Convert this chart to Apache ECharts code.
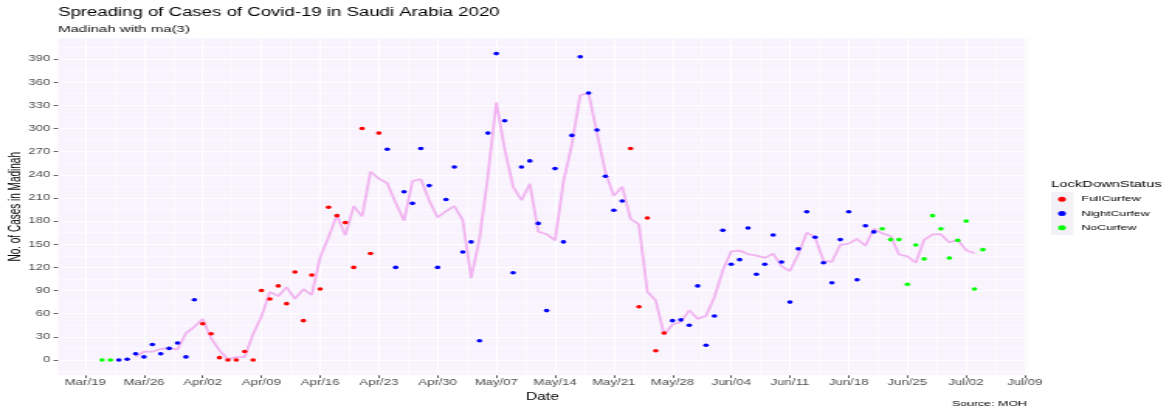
<!DOCTYPE html>
<html>
<head>
<meta charset="utf-8">
<title>Spreading of Cases of Covid-19 in Saudi Arabia 2020</title>
<script src="https://cdn.jsdelivr.net/npm/echarts@6/dist/echarts.min.js"></script>
<style>
  html, body { margin: 0; padding: 0; background: #fff; overflow: hidden; }
  /* the source plot was stretched sideways when exported, so draw narrow and stretch it */
  #chart { width: 756px; height: 411px; transform: scaleX(1.5503); transform-origin: 0 0; }
</style>
</head>
<body>
<div id="chart"></div>
<script>
const dates = [
  '2020-03-21','2020-03-22','2020-03-23','2020-03-24','2020-03-25','2020-03-26','2020-03-27','2020-03-28','2020-03-29','2020-03-30','2020-03-31',
  '2020-04-01','2020-04-02','2020-04-03','2020-04-04','2020-04-05','2020-04-06','2020-04-07','2020-04-08','2020-04-09','2020-04-10',
  '2020-04-11','2020-04-12','2020-04-13','2020-04-14','2020-04-15','2020-04-16','2020-04-17','2020-04-18','2020-04-19','2020-04-20',
  '2020-04-21','2020-04-22','2020-04-23','2020-04-24','2020-04-25','2020-04-26','2020-04-27','2020-04-28','2020-04-29','2020-04-30',
  '2020-05-01','2020-05-02','2020-05-03','2020-05-04','2020-05-05','2020-05-06','2020-05-07','2020-05-08','2020-05-09','2020-05-10',
  '2020-05-11','2020-05-12','2020-05-13','2020-05-14','2020-05-15','2020-05-16','2020-05-17','2020-05-18','2020-05-19','2020-05-20',
  '2020-05-21','2020-05-22','2020-05-23','2020-05-24','2020-05-25','2020-05-26','2020-05-27','2020-05-28','2020-05-29','2020-05-30','2020-05-31',
  '2020-06-01','2020-06-02','2020-06-03','2020-06-04','2020-06-05','2020-06-06','2020-06-07','2020-06-08','2020-06-09','2020-06-10',
  '2020-06-11','2020-06-12','2020-06-13','2020-06-14','2020-06-15','2020-06-16','2020-06-17','2020-06-18','2020-06-19','2020-06-20',
  '2020-06-21','2020-06-22','2020-06-23','2020-06-24','2020-06-25','2020-06-26','2020-06-27','2020-06-28','2020-06-29','2020-06-30',
  '2020-07-01','2020-07-02','2020-07-03','2020-07-04'
]

// daily new cases in Madinah
const cases = [
  0, 0, 0, 1, 8, 4, 20, 8, 15, 22, 4,
  78, 47, 34, 3, 0, 0, 11, 0, 90, 79, 96, 73, 114, 51, 110, 92, 198, 187, 178, 120,
  300, 138, 294, 273, 120, 218, 203, 274, 226, 120,
  208, 250, 140, 153, 25, 294, 397, 310, 113, 250, 258, 177, 64, 248, 153, 291, 393, 346, 298, 238,
  194, 206, 274, 69, 184, 12, 35, 51, 52, 45, 96,
  19, 57, 168, 124, 130, 171, 111, 124, 162, 127, 75, 144, 192, 159, 126, 100, 156, 192, 104, 174,
  166, 170, 156, 156, 98, 149, 131, 187, 170, 132,
  155, 180, 92, 143
]

// F = FullCurfew, N = NightCurfew, O = NoCurfew
const status = [
  'O','O','N','N','N','N','N','N','N','N','N',
  'N','F','F','F','F','F','F','F','F','F','F','F','F','F','F','F','F','F','F','F',
  'F','F','F','N','N','N','N','N','N','N',
  'N','N','N','N','N','N','N','N','N','N','N','N','N','N','N','N','N','N','N','N',
  'N','N','F','F','F','F','F','N','N','N','N',
  'N','N','N','N','N','N','N','N','N','N','N','N','N','N','N','N','N','N','N','N',
  'N','O','O','O','O','O','O','O','O','O',
  'O','O','O','O'
]

// ma(3) line
const ma3 = [
  null, null, null, null, 4.3, 10.7, 10.7, 14.3, 15, 13.7, 34.7,
  43, 53, 28, 12.3, 1, 3.7, 3.7, 33.7, 56.3, 88.3, 82.7, 94.3, 79.3, 91.7, 84.3, 133.3, 159, 187.7, 161.7, 199.3,
  186, 244, 235, 229, 203.7, 180.3, 231.7, 234.3, 206.7, 184.7,
  192.7, 199.3, 181, 106, 157.3, 238.7, 333.7, 273.3, 224.3, 207, 228.3, 166.3, 163, 155, 230.7, 279, 343.3, 345.7, 294, 243.3,
  212.7, 224.7, 183, 175.7, 88.3, 77, 32.7, 46, 49.3, 64.3, 53.3,
  57.3, 81.3, 116.3, 140.7, 141.7, 137.3, 135.3, 132.3, 137.7, 121.3, 115.3, 137, 165, 159, 128.3, 127.3, 149.3, 150.7, 156.7,
  148, 170, 164, 160.7, 136.7, 134.3, 126, 155.7, 162.7, 163, 152.3,
  155.7, 142.3, 138.3, null
]

const xTicks = ['2020-03-19','2020-03-26','2020-04-02','2020-04-09','2020-04-16','2020-04-23','2020-04-30','2020-05-07',
  '2020-05-14','2020-05-21','2020-05-28','2020-06-04','2020-06-11','2020-06-18','2020-06-25','2020-07-02','2020-07-09']
const xMinorTicks = ['2020-03-22 12:00','2020-03-29 12:00','2020-04-05 12:00','2020-04-12 12:00','2020-04-19 12:00','2020-04-26 12:00',
  '2020-05-03 12:00','2020-05-10 12:00','2020-05-17 12:00','2020-05-24 12:00','2020-05-31 12:00','2020-06-07 12:00',
  '2020-06-14 12:00','2020-06-21 12:00','2020-06-28 12:00','2020-07-05 12:00']
const yTicks = [0, 30, 60, 90, 120, 150, 180, 210, 240, 270, 300, 330, 360, 390]
const yMinorTicks = [-15, 15, 45, 75, 105, 135, 165, 195, 225, 255, 285, 315, 345, 375, 405]

const statusNames = { F: 'FullCurfew', N: 'NightCurfew', O: 'NoCurfew' }
const statusColors = { F: '#ff0000', N: '#0000ff', O: '#00ff00' }

const FONT = "'Liberation Sans', Arial, sans-serif"
const MONTHS = ['Jan','Feb','Mar','Apr','May','Jun','Jul','Aug','Sep','Oct','Nov','Dec']
const t = s => +echarts.time.parse(s)

// ggplot expands the range 5% each side
const xMin = t('2020-03-15 18:00')
const xMax = t('2020-07-09 06:00')
const yMin = -19.85
const yMax = 416.85

const gridLeft = 37.4, gridRight = 93.6

function pointSeries(code) {
  const data = []
  dates.forEach((d, i) => { if (status[i] === code) data.push([t(d), cases[i]]) })
  return {
    name: statusNames[code], type: 'scatter', data,
    symbol: 'circle', symbolSize: 3.6, z: 3,
    itemStyle: { color: statusColors[code], opacity: 1 }
  }
}

const chart = echarts.init(document.getElementById('chart'), null, { renderer: 'canvas' })

chart.setOption({
  animation: false,
  backgroundColor: '#ffffff',
  textStyle: { fontFamily: FONT },
  title: [
    { text: 'Spreading of Cases of Covid-19 in Saudi Arabia 2020', left: gridLeft, top: 7, padding: 0,
      textStyle: { fontSize: 12, fontWeight: 'normal', color: '#000', fontFamily: FONT } },
    { text: 'Madinah with ma(3)', left: gridLeft, top: 24, padding: 0,
      textStyle: { fontSize: 9.7, fontWeight: 'normal', color: '#111', fontFamily: FONT } },
    { text: 'LockDownStatus', left: 678, top: 179, padding: 0,
      textStyle: { fontSize: 9.5, fontWeight: 'normal', color: '#000', fontFamily: FONT } },
    { text: 'Source: MOH', right: gridRight, top: 400, padding: 0,
      textStyle: { fontSize: 8, fontWeight: 'normal', color: '#000', fontFamily: FONT } }
  ],
  graphic: [
    { type: 'rect', left: 678, top: 192, shape: { width: 14.3, height: 43 },
      style: { fill: '#f3f0f6' }, z: 0 },
    // y axis title, rotated like ggplot's
    { type: 'text', x: 10.3, y: 206.8, rotation: Math.PI / 2,
      style: { text: 'No. of Cases in Madinah', fill: '#000', font: "10px 'Liberation Sans', Arial, sans-serif",
        align: 'center', verticalAlign: 'middle' } }
  ],
  legend: {
    data: ['FullCurfew', 'NightCurfew', 'NoCurfew'],
    orient: 'vertical', left: 682.5, top: 192, padding: 0, itemGap: 0,
    icon: 'circle', itemWidth: 5, itemHeight: 5,
    selectedMode: false,
    formatter: name => '{a|' + name + '}',
    textStyle: {
      fontSize: 8, color: '#000', lineHeight: 14.3, fontFamily: FONT,
      rich: { a: { fontSize: 8, color: '#000', lineHeight: 14.3, padding: [0, 0, 0, 5], fontFamily: FONT } }
    }
  },
  grid: {
    left: gridLeft, right: gridRight, top: 38.3, bottom: 35.7,
    show: true, backgroundColor: '#f8f3fd', borderWidth: 0,
    containLabel: false, outerBoundsMode: 'none'
  },
  xAxis: [
    {
      type: 'value', min: xMin, max: xMax,
      name: 'Date', nameLocation: 'middle', nameGap: 15,
      nameTextStyle: { fontSize: 10, color: '#000', fontFamily: FONT },
      axisLine: { show: false, onZero: false },
      axisTick: { show: true, length: 2.75, lineStyle: { color: '#333', width: 0.8 }, customValues: xTicks.map(t) },
      axisLabel: {
        customValues: xTicks.map(t), margin: 3, fontSize: 8.5, color: '#4d4d4d', fontFamily: FONT,
        formatter: v => { const d = new Date(v); return MONTHS[d.getMonth()] + '/' + String(d.getDate()).padStart(2, '0') }
      },
      splitLine: { show: true, lineStyle: { color: '#ffffff', width: 1.1 } }
    },
    {
      type: 'value', min: xMin, max: xMax,
      axisLine: { show: false, onZero: false },
      axisTick: { show: false, customValues: xMinorTicks.map(t) },
      axisLabel: { show: false, customValues: xMinorTicks.map(t) },
      splitLine: { show: true, lineStyle: { color: '#ffffff', width: 0.55 } }
    }
  ],
  yAxis: [
    {
      type: 'value', min: yMin, max: yMax,
      axisLine: { show: false, onZero: false },
      axisTick: { show: true, length: 2.75, lineStyle: { color: '#333', width: 0.8 }, customValues: yTicks },
      axisLabel: { customValues: yTicks, margin: 5, fontSize: 8.5, color: '#4d4d4d', fontFamily: FONT },
      splitLine: { show: true, lineStyle: { color: '#ffffff', width: 1.1 } }
    },
    {
      type: 'value', min: yMin, max: yMax,
      axisLine: { show: false, onZero: false },
      axisTick: { show: false, customValues: yMinorTicks },
      axisLabel: { show: false, customValues: yMinorTicks },
      splitLine: { show: true, lineStyle: { color: '#ffffff', width: 0.55 } }
    }
  ],
  series: [
    {
      name: 'ma3', type: 'line', data: dates.map((d, i) => [t(d), ma3[i]]),
      showSymbol: false, symbol: 'none', z: 2,
      lineStyle: { color: '#f2b4f0', width: 1.8 }
    },
    pointSeries('F'),
    pointSeries('N'),
    pointSeries('O')
  ]
})
</script>
</body>
</html>
